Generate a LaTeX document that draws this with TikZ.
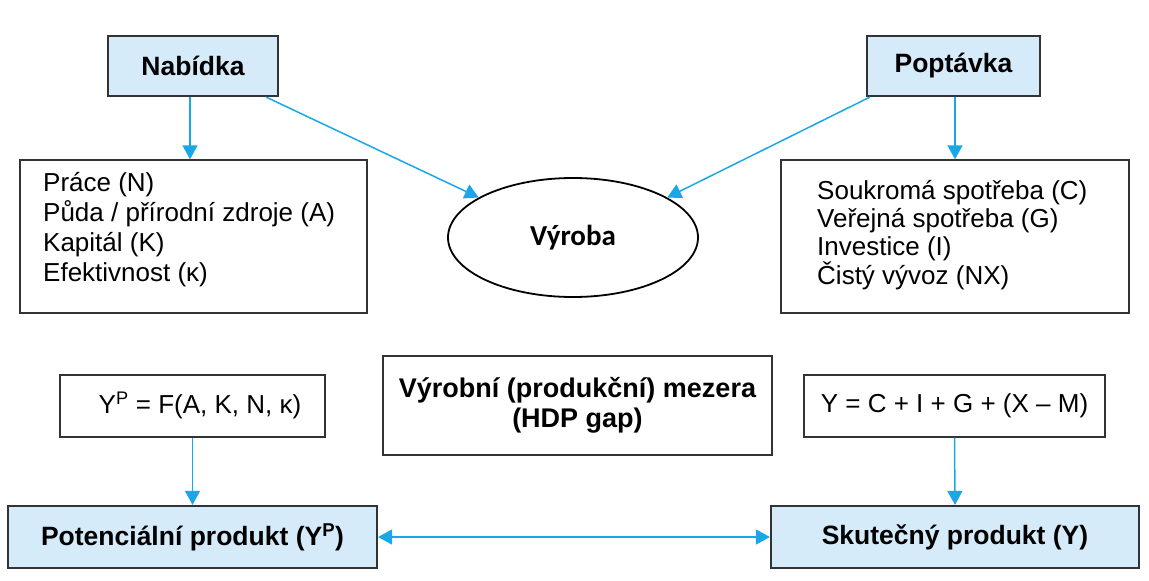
\documentclass[tikz,border=0pt]{standalone}
\usepackage{fontspec}
\setmainfont{Liberation Sans}
\newfontfamily\carlito{Carlito}
\usetikzlibrary{arrows.meta,shapes.geometric}
\definecolor{boxblue}{HTML}{D6EBF9}
\definecolor{arrowblue}{HTML}{1AA7E8}
\definecolor{edge}{HTML}{333333}
\begin{document}
\begin{tikzpicture}[x=1pt,y=-1pt,
  bluebox/.style={draw=edge,line width=2.2pt,fill=boxblue,inner sep=0pt,font=\fontsize{26.5}{30}\selectfont\bfseries},
  whitebox/.style={draw=edge,line width=1.4pt,fill=white,inner sep=0pt,font=\fontsize{26}{30}\selectfont},
  listtxt/.style={inner sep=0pt,anchor=north west,align=left},
  conn/.style={draw=arrowblue,line width=1.5pt,-{Triangle[width=15pt,length=14pt]}},
  dconn/.style={draw=arrowblue,line width=1.5pt,{Triangle[width=15pt,length=14pt]}-{Triangle[width=15pt,length=14pt]}}]
\useasboundingbox (0,0) rectangle (1149,581);
\node[bluebox,minimum width=170pt,minimum height=60pt] (nab) at (193,66) {Nabídka};
\node[bluebox,minimum width=173pt,minimum height=60pt] (pop) at (953.5,66) {Poptávka};
\node[whitebox,minimum width=347pt,minimum height=153pt] (left) at (193.5,236.5) {};
\node[listtxt,font=\fontsize{26}{30}\selectfont] (lefttxt) at (43,172) {Práce (N)\\Půda / přírodní zdroje (A)\\Kapitál (K)\\Efektivnost (κ)};
\node[whitebox,minimum width=348pt,minimum height=153pt] (right) at (955,236.5) {};
\node[listtxt,font=\fontsize{26}{28}\selectfont] (righttxt) at (817,180.5) {Soukromá spotřeba (C)\\Veřejná spotřeba (G)\\Investice (I)\\Čistý vývoz (NX)};
\node[ellipse,draw=black,line width=1.8pt,minimum width=250pt,minimum height=119pt,inner sep=0pt,font=\fontsize{29}{32}\selectfont\carlito\bfseries] (ell) at (573,237.5) {Výroba};
\node[whitebox,minimum width=265pt,minimum height=62pt] (yp) at (192.5,406) {};
\node[font=\fontsize{26}{30}\selectfont] (yptxt) at (200,405) {Y\textsuperscript{P} = F(A, K, N, κ)};
\node[whitebox,minimum width=389pt,minimum height=99pt,align=center,font=\fontsize{27}{30}\selectfont\bfseries] (gap) at (577.5,405.5) {Výrobní (produkční) mezera\\(HDP gap)};
\node[whitebox,minimum width=301pt,minimum height=62pt] (y) at (954.5,406) {Y = C + I + G + (X – M)};
\node[bluebox,minimum width=369pt,minimum height=62pt] (pot) at (192.5,537) {Potenciální produkt (Y\textsuperscript{P})};
\node[bluebox,minimum width=368pt,minimum height=62pt] (sku) at (955,537) {Skutečný produkt (Y)};
\draw[conn] ([xshift=-3pt]nab.south) -- ([xshift=-3.5pt]left.north);
\draw[conn] ([xshift=-13pt]nab.south east) -- (ell.157);
\draw[conn] ([xshift=1.5pt]pop.south) -- (right.north);
\draw[conn] ([xshift=4pt]pop.south west) -- (ell.23);
\draw[conn] (yp.south) -- (pot.north);
\draw[conn] (y.south) -- (sku.north);
\draw[dconn] (pot.east) -- (sku.west);
\end{tikzpicture}
\end{document}
